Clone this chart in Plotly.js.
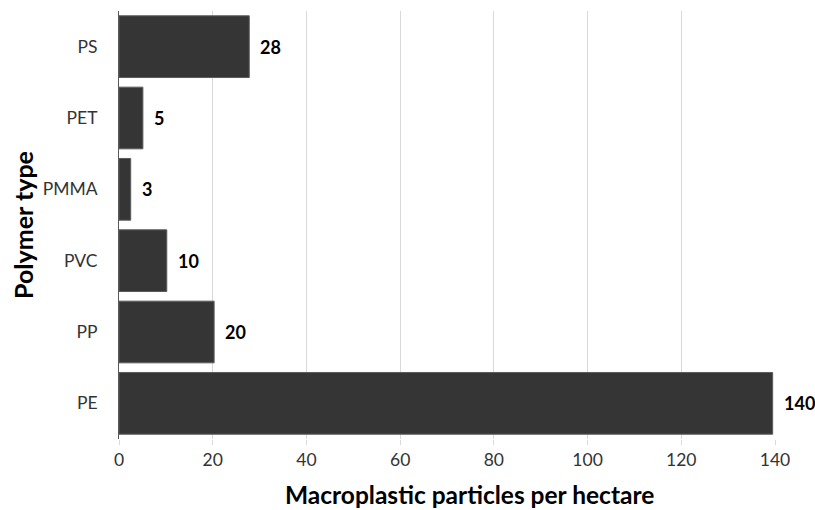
<!DOCTYPE html>
<html>
<head>
<meta charset="utf-8">
<script src="https://cdn.plot.ly/plotly-3.0.1.min.js"></script>
<style>html,body{margin:0;padding:0;background:#fff;}#chart{width:815px;height:510px;}</style>
</head>
<body>
<div id="chart"></div>
<script>
// Data (bottom to top as drawn)
var categories = ["PE", "PP", "PVC", "PMMA", "PET", "PS"];
var values = [139.5, 20.3, 10.2, 2.5, 5.1, 27.8];
var valueLabels = ["140", "20", "10", "3", "5", "28"];
var xTicks = [0, 20, 40, 60, 80, 100, 120, 140];
var xTitle = "Macroplastic particles per hectare";
var yTitle = "Polymer type";

var FONT = "Lato, 'Open Sans', sans-serif";

var trace = {
  type: "bar",
  orientation: "h",
  x: values,
  y: categories,
  marker: {color: "#353535", line: {color: "#5c5c5c", width: 1}},
  hoverinfo: "none"
};

var annotations = categories.map(function (c, i) {
  return {
    x: values[i], y: c, xref: "x", yref: "y",
    text: valueLabels[i], showarrow: false,
    xanchor: "left", yanchor: "middle", xshift: 9,
    font: {family: FONT, size: 18, color: "#000", weight: "bold"}
  };
});
// x-axis title (offset right of the plot centre, as in the reference)
annotations.push({
  x: 0.534, y: 0, xref: "paper", yref: "paper",
  text: xTitle, showarrow: false,
  xanchor: "center", yanchor: "middle", yshift: -55,
  font: {family: FONT, size: 24.5, color: "#000", weight: "bold"}
});

var layout = {
  width: 815, height: 510,
  margin: {l: 119, r: 40, t: 11, b: 71},
  paper_bgcolor: "#fff", plot_bgcolor: "#fff",
  showlegend: false,
  bargap: 0.135,
  font: {family: FONT, color: "#333"},
  xaxis: {
    range: [0, 140],
    tickvals: xTicks,
    ticktext: xTicks.map(String),
    showgrid: true, gridcolor: "#d9d9d9", gridwidth: 1,
    zeroline: false, showline: false,
    ticks: "outside", ticklen: 5, tickcolor: "#d9d9d9",
    tickfont: {family: FONT, size: 17.5, color: "#333"}
  },
  yaxis: {
    type: "category",
    categoryorder: "array", categoryarray: categories,
    showgrid: false, zeroline: false,
    showline: true, linecolor: "#595959", linewidth: 1,
    ticks: "", ticklabelstandoff: 17,
    tickfont: {family: FONT, size: 17.5, color: "#333"},
    title: {text: yTitle, standoff: 1,
            font: {family: FONT, size: 25, color: "#000", weight: "bold"}}
  },
  annotations: annotations
};

Plotly.newPlot("chart", [trace], layout, {displayModeBar: false, staticPlot: true});
</script>
</body>
</html>
